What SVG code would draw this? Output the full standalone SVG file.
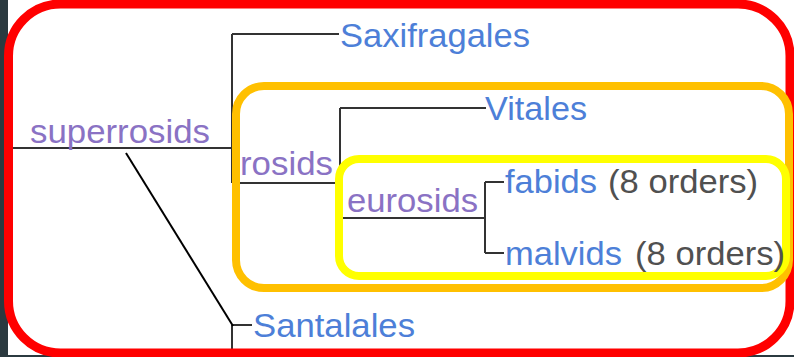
<svg xmlns="http://www.w3.org/2000/svg" width="794" height="357" viewBox="0 0 794 357">
<style>
.ln{fill:none;stroke:#333;stroke-width:2}
.dg{fill:none;stroke:#000;stroke-width:2}
.fr{fill:none}
text{font-family:"Liberation Sans",Arial,sans-serif;font-size:32.5px}
.p{fill:#8a72c4}
.b{fill:#4d7fd8}
.g{fill:#505050}
</style>
<rect x="0" y="0" width="794" height="357" fill="#2b3a40"/>
<rect x="8" y="0" width="786" height="355" fill="#ffffff"/>
<g id="connectors">
<path class="ln" d="M12 148H232M232 34V183M232 34H339M232 183H340M340 108V218M340 108H486M340 218H485M485 182V253M485 182H504M485 253H504M232 325V355M232 325H252"/>
<path class="dg" d="M126 153L233 326"/>
</g>
<g id="frames">
<rect class="fr" x="8.5" y="4" width="781.5" height="349" rx="52" stroke="#ff0000" stroke-width="9"/>
<rect class="fr" x="236" y="86" width="553" height="202" rx="28" stroke="#ffc000" stroke-width="8"/>
<rect class="fr" x="339" y="159" width="447" height="117" rx="20" stroke="#ffff00" stroke-width="8"/>
</g>
<g id="superrosids"><text class="p" x="30" y="143" textLength="180" lengthAdjust="spacingAndGlyphs">superrosids</text></g>
<g id="saxifragales"><text class="b" x="340" y="47" textLength="190" lengthAdjust="spacingAndGlyphs">Saxifragales</text></g>
<g id="rosids"><text class="p" x="240" y="175" textLength="93" lengthAdjust="spacingAndGlyphs">rosids</text></g>
<g id="vitales"><text class="b" x="485" y="120" textLength="102" lengthAdjust="spacingAndGlyphs">Vitales</text></g>
<g id="eurosids"><text class="p" x="347" y="212" textLength="131" lengthAdjust="spacingAndGlyphs">eurosids</text></g>
<g id="fabids"><text class="b" x="505" y="193" textLength="92" lengthAdjust="spacingAndGlyphs">fabids</text><text class="g" x="608" y="193" textLength="150" lengthAdjust="spacingAndGlyphs">(8 orders)</text></g>
<g id="malvids"><text class="b" x="505" y="265" textLength="117" lengthAdjust="spacingAndGlyphs">malvids</text><text class="g" x="635" y="265" textLength="150" lengthAdjust="spacingAndGlyphs">(8 orders)</text></g>
<g id="santalales"><text class="b" x="253" y="337" textLength="162" lengthAdjust="spacingAndGlyphs">Santalales</text></g>
</svg>
